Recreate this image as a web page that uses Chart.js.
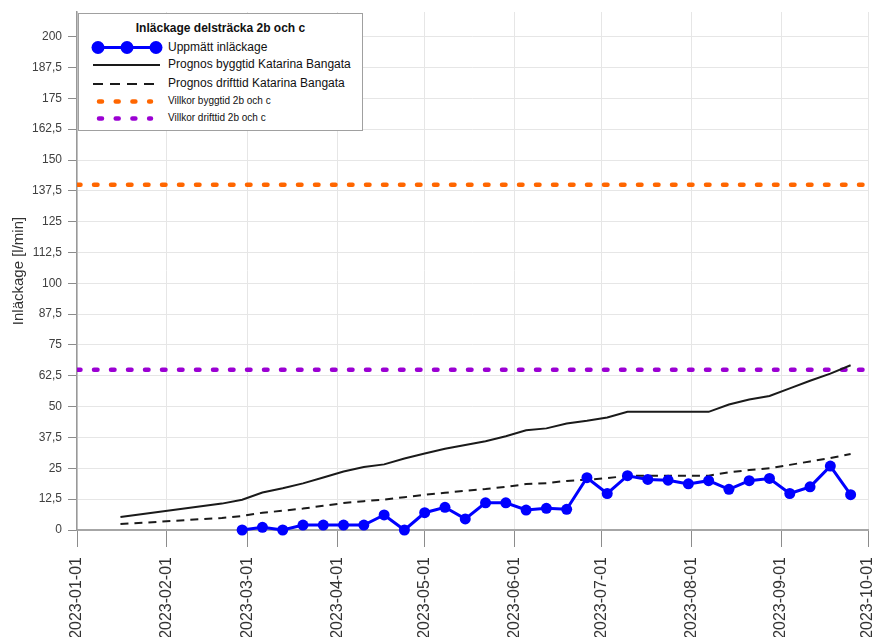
<!DOCTYPE html>
<html>
<head>
<meta charset="utf-8">
<script src="https://cdn.jsdelivr.net/npm/chart.js@4.4.0/dist/chart.umd.min.js"></script>
<style>
  html, body { margin: 0; padding: 0; background: #fff; overflow: hidden; }
  #wrap { position: relative; width: 874px; height: 637px; overflow: hidden; }
  #grafico { position: absolute; left: 0; top: 0; }
  #legend {
    position: absolute; left: 78px; top: 13px; width: 283px; height: 116px;
    border: 1px solid #a0a0a0; background: #fff;
    font-family: "Liberation Sans", Arial, sans-serif; color: #111;
  }
  #legend svg { position: absolute; left: 0; top: 0; }
  #legend .t { position: absolute; left: 0; width: 283px; text-align: center; top: 7px; font-weight: bold; font-size: 12px; line-height: 14px; }
  #legend .r { position: absolute; left: 89px; font-size: 12px; line-height: 14px; white-space: nowrap; }
  #legend .s { font-size: 10px; line-height: 12px; }
</style>
</head>
<body>
<div id="wrap">
  <canvas id="grafico" width="874" height="650"></canvas>
  <div id="legend">
    <svg width="283" height="116">
      <line x1="19" y1="33.5" x2="77" y2="33.5" stroke="#0000ff" stroke-width="3"/>
      <circle cx="19" cy="33.5" r="6.5" fill="#0000ff"/>
      <circle cx="48" cy="33.5" r="6.5" fill="#0000ff"/>
      <circle cx="77" cy="33.5" r="6.5" fill="#0000ff"/>
      <line x1="14" y1="51" x2="81" y2="51" stroke="#1a1a1a" stroke-width="2"/>
      <line x1="14" y1="70" x2="76" y2="70" stroke="#1a1a1a" stroke-width="2" stroke-dasharray="10 7"/>
      <line x1="20" y1="87.5" x2="72" y2="87.5" stroke="#ff6600" stroke-width="4.5" stroke-linecap="round" stroke-dasharray="3 13.7"/>
      <line x1="20" y1="104.5" x2="72" y2="104.5" stroke="#9b00d3" stroke-width="4.5" stroke-linecap="round" stroke-dasharray="3 13.7"/>
    </svg>
    <div class="t">Inläckage delsträcka 2b och c</div>
    <div class="r" style="top:26px">Uppmätt inläckage</div>
    <div class="r" style="top:43px">Prognos byggtid Katarina Bangata</div>
    <div class="r" style="top:62px">Prognos drifttid Katarina Bangata</div>
    <div class="r s" style="top:81px">Villkor byggtid 2b och c</div>
    <div class="r s" style="top:98px">Villkor drifttid 2b och c</div>
  </div>
</div>
<script>
// x-axeln: dagar från 2023-01-01
const startDatum = '2023-01-01';
const slutDatum = '2023-10-01';
const xTickLabels = ['2023-01-01', '2023-02-01', '2023-03-01', '2023-04-01', '2023-05-01',
    '2023-06-01', '2023-07-01', '2023-08-01', '2023-09-01', '2023-10-01'];
const yTicks = [0, 12.5, 25, 37.5, 50, 62.5, 75, 87.5, 100, 112.5, 125, 137.5, 150, 162.5, 175, 187.5, 200];

// uppmätt inläckage, veckovis
const matDatum = ['2023-02-27', '2023-03-06', '2023-03-13', '2023-03-20', '2023-03-27', '2023-04-03',
    '2023-04-10', '2023-04-17', '2023-04-24', '2023-05-01', '2023-05-08', '2023-05-15', '2023-05-22',
    '2023-05-29', '2023-06-05', '2023-06-12', '2023-06-19', '2023-06-26', '2023-07-03', '2023-07-10',
    '2023-07-17', '2023-07-24', '2023-07-31', '2023-08-07', '2023-08-14', '2023-08-21', '2023-08-28',
    '2023-09-04', '2023-09-11', '2023-09-18', '2023-09-25'];
const uppmatt = [0, 1.1, 0, 2, 2, 2, 2, 6.1, 0, 7, 9.2, 4.5, 11, 11, 8.1, 8.8, 8.4, 21.2, 14.8, 22,
    20.5, 20.2, 18.7, 20, 16.5, 20, 20.9, 14.8, 17.5, 25.9, 14.3];

// prognoser
const prognosDatum = ['2023-01-16', '2023-02-20'].concat(matDatum);
const prognosBygg = [5.3, 10.7, 12.3, 15.2, 16.9, 18.9, 21.3, 23.7, 25.5, 26.6, 29, 31, 32.9, 34.5, 36,
    38, 40.4, 41.2, 43.2, 44.3, 45.6, 47.9, 47.9, 47.9, 47.9, 47.9, 50.9, 52.9, 54.3, 57.4, 60.5, 63.4, 66.8];
const prognosDrift = [2.4, 4.9, 5.7, 7.0, 7.8, 8.7, 9.8, 10.9, 11.7, 12.3, 13.3, 14.3, 15.1, 15.9, 16.6,
    17.5, 18.6, 19, 19.9, 20.4, 21, 22, 22, 22, 22, 22, 23.4, 24.3, 25, 26.4, 27.8, 29.2, 30.8];

// villkor
const villkorBygg = 140;
const villkorDrift = 65;

function dag(d) {
    return (Date.parse(d) - Date.parse(startDatum)) / 86400000;
}
const xTickDays = xTickLabels.map(dag);
const xMax = dag(slutDatum);

const punkter = (datum, varden) => datum.map((d, i) => ({ x: dag(d), y: varden[i] }));
const horisontell = v => [{ x: 0, y: v }, { x: xMax, y: v }];

const font = "'Liberation Sans', Arial, sans-serif";
const ctx = document.getElementById('grafico');

new Chart(ctx, {
    type: 'line',
    data: {
        datasets: [
            {
                label: 'Uppmätt inläckage',
                data: punkter(matDatum, uppmatt),
                borderColor: '#0000ff',
                backgroundColor: '#0000ff',
                borderWidth: 3,
                pointRadius: 5.5,
                pointBorderWidth: 0,
                clip: false
            },
            {
                label: 'Prognos byggtid Katarina Bangata',
                data: punkter(prognosDatum, prognosBygg),
                borderColor: '#1a1a1a',
                borderWidth: 2,
                pointRadius: 0
            },
            {
                label: 'Prognos drifttid Katarina Bangata',
                data: punkter(prognosDatum, prognosDrift),
                borderColor: '#1a1a1a',
                borderWidth: 2,
                borderDash: [8, 6],
                pointRadius: 0
            },
            {
                label: 'Villkor byggtid 2b och c',
                data: horisontell(villkorBygg),
                borderColor: '#ff6600',
                borderWidth: 4.5,
                borderDash: [3.5, 13.5],
                borderCapStyle: 'round',
                pointRadius: 0
            },
            {
                label: 'Villkor drifttid 2b och c',
                data: horisontell(villkorDrift),
                borderColor: '#9b00d3',
                borderWidth: 4.5,
                borderDash: [3.5, 13.5],
                borderCapStyle: 'round',
                pointRadius: 0
            }
        ]
    },
    options: {
        responsive: false,
        animation: false,
        devicePixelRatio: 1,
        layout: { padding: { top: 12, right: 6, left: 0, bottom: 0 } },
        plugins: {
            legend: { display: false },
            tooltip: { enabled: false }
        },
        scales: {
            x: {
                type: 'linear',
                min: 0,
                max: xMax,
                afterBuildTicks: s => { s.ticks = xTickDays.map(v => ({ value: v })); },
                afterFit: s => { s.height = 120; s.paddingLeft = 0; s.paddingRight = 0; },
                grid: { color: '#e6e6e6', tickColor: '#8c8c8c', tickLength: 17 },
                border: { color: '#a6a6a6', width: 2 },
                ticks: {
                    autoSkip: false,
                    minRotation: 90,
                    maxRotation: 90,
                    padding: 10,
                    color: '#333',
                    font: { family: font, size: 16 },
                    callback: v => xTickLabels[xTickDays.indexOf(v)]
                }
            },
            y: {
                min: 0,
                max: 210,
                afterBuildTicks: s => { s.ticks = yTicks.map(v => ({ value: v })); },
                afterFit: s => { s.width = 77; s.paddingTop = 0; s.paddingBottom = 0; },
                grid: { color: '#e6e6e6', tickColor: '#8c8c8c', tickLength: 9 },
                border: { color: '#999', width: 1.5 },
                ticks: {
                    padding: 6,
                    color: '#404040',
                    font: { family: font, size: 12 },
                    callback: v => String(v).replace('.', ',')
                },
                title: {
                    display: true,
                    text: 'Inläckage [l/min]',
                    color: '#333',
                    font: { family: font, size: 15 },
                    padding: { top: 10, bottom: 0 }
                }
            }
        }
    }
});
</script>
</body>
</html>
